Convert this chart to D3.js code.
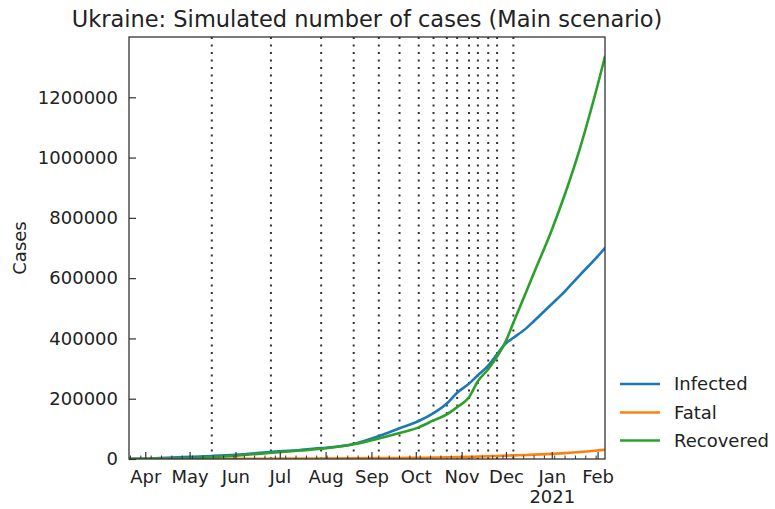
<!DOCTYPE html>
<html>
<head>
<meta charset="utf-8">
<script src="https://cdn.jsdelivr.net/npm/d3@7"></script>
<style>
  html, body { margin: 0; padding: 0; background: #fff; }
  text { font-family: "DejaVu Sans", sans-serif; fill: #222; }
</style>
</head>
<body>
<script>
// ---- data ----
const dates = ["2020-03-21","2020-04-01","2020-04-15","2020-05-01","2020-05-16","2020-06-01","2020-06-24","2020-07-15","2020-07-29","2020-08-20","2020-09-06","2020-09-20","2020-10-03","2020-10-13","2020-10-22","2020-10-29","2020-11-06","2020-11-12","2020-11-19","2020-11-25","2020-12-01","2020-12-06","2020-12-15","2020-12-20","2021-01-01","2021-01-10","2021-01-20","2021-02-01","2021-02-06"];
const infected  = [500,1500,4000,7000,10000,14000,23000,30000,36000,50000,76000,102000,126000,152000,184000,220000,250000,278000,310000,348000,384000,402000,435000,458000,514000,557000,610000,672000,700000];
const fatal     = [0,30,100,250,450,600,1000,1400,1700,2200,2800,3400,4100,4800,5600,6300,7200,8000,9000,10200,11200,12000,13500,14500,17000,19500,23000,28500,31000];
const recovered = [0,100,800,2500,6000,11000,20000,28000,34000,49000,68000,86000,105000,128000,148000,172000,205000,258000,298000,340000,392000,452000,558000,618000,760000,880000,1030000,1240000,1335000];
const seriesNames = ["Infected","Fatal","Recovered"];
const seriesColors = ["#1f77b4","#ff7f0e","#2ca02c"];
const phaseDates = ["2020-05-16","2020-06-25","2020-07-29","2020-08-20","2020-09-06","2020-09-20","2020-10-03","2020-10-13","2020-10-22","2020-10-29","2020-11-06","2020-11-12","2020-11-19","2020-11-25","2020-12-06"];
const yTicks = [0,200000,400000,600000,800000,1000000,1200000];
const monthTicks = ["2020-04-01","2020-05-01","2020-06-01","2020-07-01","2020-08-01","2020-09-01","2020-10-01","2020-11-01","2020-12-01","2021-01-01","2021-02-01"];
const titleText = "Ukraine: Simulated number of cases (Main scenario)";
const yLabel = "Cases";

// ---- layout ----
const W = 775, H = 509;
const L = 129, R = 605, T = 37, B = 459;
const parse = d3.utcParse("%Y-%m-%d");

const svg = d3.select("body").append("svg").attr("width", W).attr("height", H)
  .style("background", "#fff");

const x = d3.scaleUtc().domain([parse("2020-03-21"), parse("2021-02-06")]).range([L, R]);
const y = d3.scaleLinear().domain([0, 1400000]).range([B, T]);

svg.append("defs").append("clipPath").attr("id", "clip")
  .append("rect").attr("x", L).attr("y", T).attr("width", R - L).attr("height", B - T);

// phase lines
svg.append("g").selectAll("line").data(phaseDates).join("line")
  .attr("x1", d => x(parse(d))).attr("x2", d => x(parse(d)))
  .attr("y1", T).attr("y2", B)
  .attr("stroke", "#333").attr("stroke-width", 2)
  .attr("stroke-dasharray", "2,5.5");

// series
const series = [infected, fatal, recovered];
const line = d3.line()
  .x((d, i) => x(parse(dates[i])))
  .y(d => y(d))
  .curve(d3.curveMonotoneX);
const gl = svg.append("g").attr("clip-path", "url(#clip)");
series.forEach((s, k) => {
  gl.append("path").attr("d", line(s)).attr("fill", "none")
    .attr("stroke", seriesColors[k]).attr("stroke-width", 2.6)
    .attr("stroke-linejoin", "round").attr("stroke-linecap", "round");
});

// y axis (ticks inward)
const yAxis = d3.axisLeft(y).tickValues(yTicks).tickFormat(d3.format("d"))
  .tickSizeInner(-7).tickSizeOuter(0).tickPadding(11);
const gy = svg.append("g").attr("transform", `translate(${L},0)`).call(yAxis);
gy.select(".domain").remove();
gy.selectAll("line").attr("stroke", "#333").attr("stroke-width", 1.2);
gy.selectAll("text").attr("font-size", 18).style("fill", "#222");

// x minor ticks
const minor = d3.utcWeek.every(1).range(x.domain()[0], x.domain()[1]);
svg.append("g").selectAll("line").data(minor).join("line")
  .attr("x1", d => x(d)).attr("x2", d => x(d))
  .attr("y1", B).attr("y2", B - 3.5)
  .attr("stroke", "#333").attr("stroke-width", 1);

// x axis major
const fmtMon = d3.utcFormat("%b");
const xAxis = d3.axisBottom(x).tickValues(monthTicks.map(parse))
  .tickFormat(d => fmtMon(d)).tickSizeInner(-7).tickSizeOuter(0).tickPadding(11);
const gx = svg.append("g").attr("transform", `translate(0,${B})`).call(xAxis);
gx.select(".domain").remove();
gx.selectAll("line").attr("stroke", "#333").attr("stroke-width", 1.2);
gx.selectAll("text").attr("font-size", 18).style("fill", "#222");
gx.selectAll(".tick").filter(d => d.getUTCMonth() === 0)
  .append("text").attr("y", 44).attr("text-anchor", "middle")
  .attr("font-size", 18).style("fill", "#222")
  .text(d => d3.utcFormat("%Y")(d));

// frame
svg.append("rect").attr("x", L).attr("y", T).attr("width", R - L).attr("height", B - T)
  .attr("fill", "none").attr("stroke", "#333").attr("stroke-width", 1.3);

// title
svg.append("text").attr("x", (L + R) / 2).attr("y", 27).attr("text-anchor", "middle")
  .attr("font-size", 22.5).text(titleText);

// y label
svg.append("text").attr("transform", `translate(26,${(T + B) / 2}) rotate(-90)`)
  .attr("text-anchor", "middle").attr("font-size", 18).text(yLabel);

// legend
const legY = [384, 412.5, 440.5];
const lg = svg.append("g");
seriesNames.forEach((n, k) => {
  lg.append("line").attr("x1", 620).attr("x2", 660).attr("y1", legY[k]).attr("y2", legY[k])
    .attr("stroke", seriesColors[k]).attr("stroke-width", 2.6);
  lg.append("text").attr("x", 674).attr("y", legY[k]).attr("dy", "0.35em")
    .attr("font-size", 18).text(n);
});
</script>
</body>
</html>
